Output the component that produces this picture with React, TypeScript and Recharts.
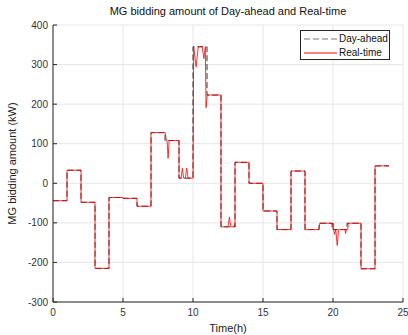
import { LineChart, Line, XAxis, YAxis, CartesianGrid } from 'recharts';

// hourly day-ahead bids (kW), last value repeated to close the final hour
const hours = [0, 1, 2, 3, 4, 5, 6, 7, 8, 9, 10, 11, 12, 13, 14, 15, 16, 17, 18, 19, 20, 21, 22, 23, 24];
const dayAheadKW = [-44, 33, -48, -215, -36, -38, -58, 128, 108, 13, 345, 223, -110, 53, 0, -70, -117, 31, -117, -101, -117, -101, -216, 44, 44];

// real-time bids (kW), including the short spikes
const rtTimes = [
  0, 1, 1, 2, 2, 3, 3, 4, 4, 5, 5, 6, 6, 7, 7, 8.02, 8.1, 8.15, 8.22, 8.3, 9, 9,
  9.15, 9.24, 9.33, 9.45, 9.55, 9.65, 10, 10.05, 10.22, 10.38, 10.65, 10.78, 10.88, 10.93, 11.02,
  12, 12, 12.5, 12.6, 12.7, 12.9, 12.95, 13, 13, 14, 14, 15, 15, 16, 16, 17, 17, 18, 18, 19,
  19.05, 19.9, 19.95, 20, 20.1, 20.2, 20.3, 20.4, 20.85, 20.9, 20.95, 21.05, 21.1, 22, 22, 23, 23, 24,
];
const rtKW = [
  -44, -44, 33, 33, -48, -48, -215, -215, -36, -36, -38, -38, -58, -58, 128, 128, 108, 108, 63, 108, 108, 13,
  13, 38, 13, 13, 38, 13, 13, 345, 294, 345, 345, 315, 345, 191, 223,
  223, -110, -110, -85, -110, -110, -105, -110, 53, 53, 0, 0, -70, -70, -117, -117, 31, 31, -117, -117,
  -101, -101, -112, -101, -129, -117, -157, -117, -117, -127, -117, -117, -101, -101, -216, -216, 44, 44,
];

const xTicks = [0, 5, 10, 15, 20, 25];
const yTicks = [-300, -200, -100, 0, 100, 200, 300, 400];

const dayAheadData = hours.map((t, i) => ({ t, kw: dayAheadKW[i] }));
const realTimeData = rtTimes.map((t, i) => ({ t, kw: rtKW[i] }));

const font = 'Liberation Sans, Arial, sans-serif';
const axisColor = '#262626';
const tickStyle = { fontSize: 10, fill: '#333', fontFamily: font };

export default function App() {
  return (
    <div style={{ position: 'absolute', left: 0, top: 0, width: 408, height: 335, background: '#fff', fontFamily: font }}>
      <div style={{ position: 'absolute', left: 53, width: 350, top: 5, textAlign: 'center', fontSize: 11, color: '#111' }}>
        MG bidding amount of Day-ahead and Real-time
      </div>
      <LineChart width={408} height={335} margin={{ top: 25, right: 5, bottom: 3, left: 8 }}>
        <CartesianGrid stroke="#e6e6e6" strokeWidth={1} />
        <XAxis
          dataKey="t"
          type="number"
          domain={[0, 25]}
          ticks={xTicks}
          allowDataOverflow
          height={30}
          tickSize={-4}
          tickMargin={11}
          stroke={axisColor}
          tick={tickStyle}
          label={{ value: 'Time(h)', position: 'insideBottom', offset: 0, fontSize: 11, fill: '#222', fontFamily: font }}
        />
        <XAxis
          xAxisId="top"
          orientation="top"
          dataKey="t"
          type="number"
          domain={[0, 25]}
          ticks={xTicks}
          height={0}
          tickSize={-4}
          tick={false}
          stroke={axisColor}
        />
        <YAxis
          type="number"
          domain={[-300, 400]}
          ticks={yTicks}
          width={45}
          tickSize={-4}
          tickMargin={9}
          stroke={axisColor}
          tick={tickStyle}
          label={{ value: 'MG bidding amount (kW)', angle: -90, position: 'insideLeft', offset: 4, style: { textAnchor: 'middle' }, fontSize: 11, fill: '#222', fontFamily: font }}
        />
        <YAxis
          yAxisId="right"
          orientation="right"
          type="number"
          domain={[-300, 400]}
          ticks={yTicks}
          width={0}
          tickSize={-4}
          tick={false}
          stroke={axisColor}
        />
        <Line
          data={dayAheadData}
          dataKey="kw"
          type="stepAfter"
          stroke="#333"
          strokeWidth={1}
          strokeDasharray="6 3"
          dot={false}
          isAnimationActive={false}
        />
        <Line
          data={realTimeData}
          dataKey="kw"
          type="linear"
          stroke="#ff0000"
          strokeWidth={0.8}
          dot={false}
          isAnimationActive={false}
        />
      </LineChart>
      <div
        style={{
          position: 'absolute', left: 300, top: 30, width: 88, height: 28,
          border: '1px solid #262626', background: '#fff', fontSize: 10, color: '#111',
        }}
      >
        <svg width={36} height={28} style={{ position: 'absolute', left: 2, top: 0 }}>
          <line x1={1} x2={34} y1={8} y2={8} stroke="#777" strokeWidth={1} strokeDasharray="6 3" />
          <line x1={1} x2={34} y1={22} y2={22} stroke="#ff0000" strokeWidth={1} />
        </svg>
        <div style={{ position: 'absolute', left: 38, top: 2 }}>Day-ahead</div>
        <div style={{ position: 'absolute', left: 38, top: 16 }}>Real-time</div>
      </div>
    </div>
  );
}
